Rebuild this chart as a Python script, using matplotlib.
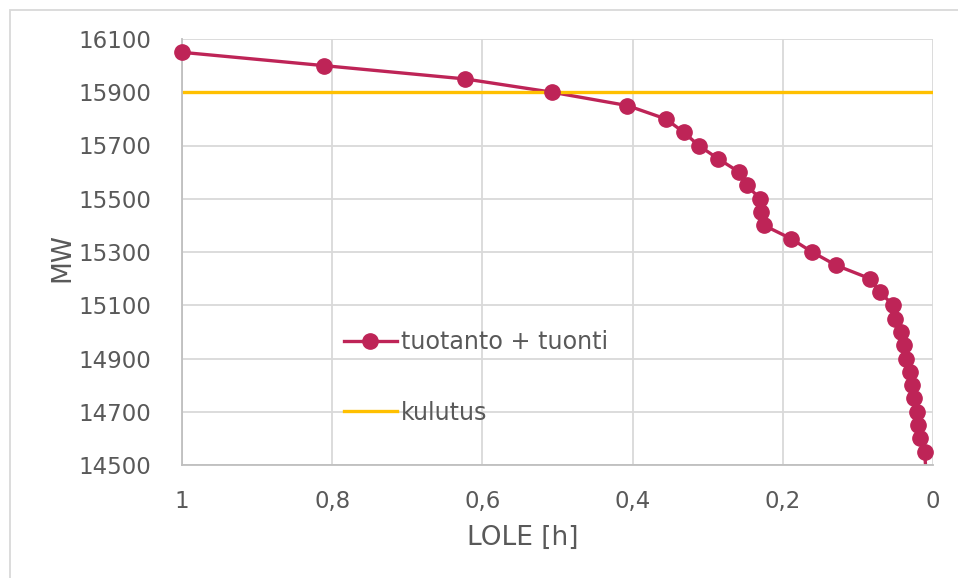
import matplotlib.pyplot as plt
import numpy as np
from matplotlib.ticker import FuncFormatter

# LOLE [h] vs available capacity (tuotanto + tuonti)
lole = [1.0, 0.811, 0.623, 0.507, 0.407, 0.356, 0.332, 0.312, 0.286, 0.258,
        0.248, 0.230, 0.229, 0.225, 0.189, 0.161, 0.129, 0.084, 0.071, 0.053,
        0.051, 0.043, 0.039, 0.036, 0.031, 0.028, 0.025, 0.021, 0.020, 0.017,
        0.011, 0.009]
mw = [16050, 16000, 15950, 15900, 15850, 15800, 15750, 15700, 15650, 15600,
      15550, 15500, 15450, 15400, 15350, 15300, 15250, 15200, 15150, 15100,
      15050, 15000, 14950, 14900, 14850, 14800, 14750, 14700, 14650, 14600,
      14550, 14450]
kulutus = 15900

RED = "#BE2457"
GOLD = "#FFC000"
TXT = "#595959"
plt.rcParams["font.family"] = "DejaVu Sans"

fig = plt.figure(figsize=(9.58, 5.78), dpi=100)
W, H = 958, 578
ax = fig.add_axes([182 / W, 1 - 465 / H, (933 - 182) / W, (465 - 39) / H])

x = np.array(lole)
y = np.array(mw)
ymin, ymax = 14500, 16100
inside = y >= ymin

# line clipped to the plot area, markers not clipped (Excel style)
ax.plot(x, y, color=RED, lw=2.4)
ax.plot(x[inside], y[inside], ls="none", marker="o", ms=11, color=RED,
        clip_on=False, zorder=3)
ax.plot([], [], color=RED, lw=2.4, marker="o", ms=11, label="tuotanto + tuonti")
ax.axhline(kulutus, color=GOLD, lw=2.4, label="kulutus")

ax.set_xlim(1, 0)
ax.set_ylim(ymin, ymax)
ax.set_xticks(np.arange(0, 1.01, 0.2))
ax.set_yticks(np.arange(ymin, ymax + 1, 200))
ax.xaxis.set_major_formatter(FuncFormatter(lambda v, p: f"{v:g}".replace(".", ",")))
ax.grid(True, color="#D9D9D9", lw=1.3)
ax.set_axisbelow(True)
for s in ["top", "right"]:
    ax.spines[s].set_visible(False)
for s in ["left", "bottom"]:
    ax.spines[s].set_color("#BFBFBF")
    ax.spines[s].set_linewidth(1.3)
ax.tick_params(length=0, labelsize=16.5, labelcolor=TXT)
ax.tick_params(axis="y", pad=22)
ax.tick_params(axis="x", pad=18)

ax.set_xlabel("LOLE [h]", fontsize=19, color=TXT, va="center")
ax.xaxis.set_label_coords((523 - 182) / 751, -(538 - 465) / 426)
ax.set_ylabel("MW", fontsize=19, color=TXT, va="center")
ax.yaxis.set_label_coords((62 - 182) / 751, (465 - 257) / 426)

ax.legend(loc="upper left", bbox_to_anchor=((344 - 182) / 751, (465 - 330) / 426),
          frameon=False, fontsize=17.2, labelcolor=TXT, handlelength=2.2,
          handletextpad=0.2, labelspacing=1.95, borderpad=0, borderaxespad=0)

fig.patches.append(plt.Rectangle((10 / W, -0.1), 2, 1 - 10 / H + 0.1,
                                 transform=fig.transFigure, fill=False,
                                 edgecolor="#D9D9D9", lw=1.3))

fig.savefig("out.png", dpi=100)
